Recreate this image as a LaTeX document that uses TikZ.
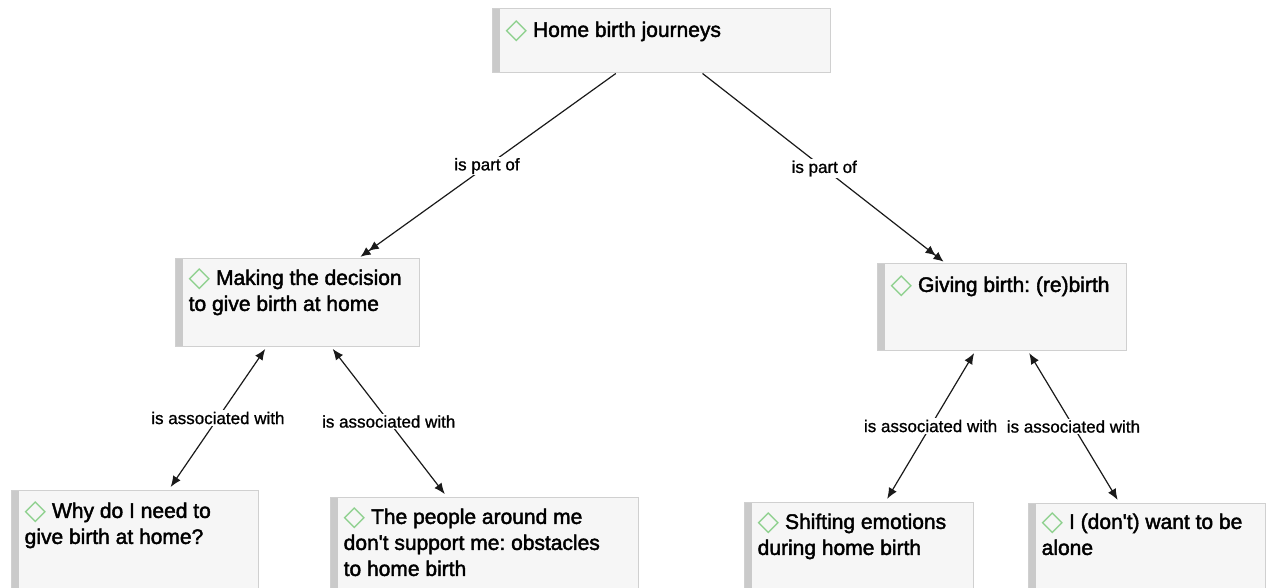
\documentclass[tikz,border=0pt]{standalone}
\usepackage{fontspec}
\setmainfont{Liberation Sans}
\newfontfamily\nodefont[FakeBold=2]{Liberation Sans}
\newfontfamily\labelfont[FakeBold=1]{Liberation Sans}
\newfontfamily\dejavu{DejaVu Sans}
\usetikzlibrary{arrows.meta}
\definecolor{boxfill}{HTML}{F6F6F6}
\definecolor{boxline}{HTML}{D0D0D0}
\definecolor{barcol}{HTML}{CACACA}
\definecolor{diagreen}{HTML}{8CD08C}
\definecolor{arrowcol}{HTML}{1A1A1A}
\frenchspacing
\newcommand{\dia}{\smash{\raisebox{-1.5pt}{\dejavu\color{diagreen}\fontsize{28}{26}\selectfont ◇}}}
\tikzset{
  conceptbox/.style={draw=boxline, line width=1pt, fill=boxfill, inner sep=0pt,
    path picture={\fill[barcol] (path picture bounding box.south west) rectangle ([xshift=8pt]path picture bounding box.north west);}},
  concepttext/.style={anchor=north west, inner sep=0pt, align=left,
    font=\nodefont\fontsize{21}{26}\selectfont},
  linklabel/.style={midway, fill=white, inner sep=1.5pt, font=\labelfont\fontsize{17}{20}\selectfont},
  partof/.style={draw=arrowcol, line width=1.2pt, shorten >=3pt,
    -{Latex[length=10pt,width=9pt]Latex[length=10pt,width=9pt]}},
  assoc/.style={draw=arrowcol, line width=1.2pt, shorten >=3pt, shorten <=3pt,
    {Latex[length=11pt,width=9pt]}-{Latex[length=11pt,width=9pt]}},
}
\begin{document}
\begin{tikzpicture}[x=1pt,y=-1pt]
\useasboundingbox (0,0) rectangle (1267,588);
\clip (0,0) rectangle (1267,588);
\fill[white] (0,0) rectangle (1267,588);

\node[conceptbox, minimum width=338pt, minimum height=64pt] (top) at (661,41) {};
\node[conceptbox, minimum width=244pt, minimum height=87pt] (making) at (297,302.5) {};
\node[conceptbox, minimum width=249pt, minimum height=86pt] (giving) at (1001.5,307) {};
\node[conceptbox, minimum width=247pt, minimum height=100pt] (why) at (134.5,540) {};
\node[conceptbox, minimum width=308pt, minimum height=96pt] (people) at (484,545) {};
\node[conceptbox, minimum width=229pt, minimum height=90pt] (shifting) at (858.5,547) {};
\node[conceptbox, minimum width=237pt, minimum height=90pt] (alone) at (1146.5,548) {};

\node[concepttext] (topT) at ([xshift=14pt,yshift=-10pt]top.north west) {\strut\dia\ Home birth journeys};
\node[concepttext] (makingT) at ([xshift=14pt,yshift=-8pt]making.north west) {\strut\dia\ Making the decision\\to give birth at home};
\node[concepttext] (givingT) at ([xshift=14pt,yshift=-10pt]giving.north west) {\strut\dia\ Giving birth: (re)birth};
\node[concepttext] (whyT) at ([xshift=14pt,yshift=-10pt]why.north west) {\strut\dia\ Why do I need to\\give birth at home?};
\node[concepttext] (peopleT) at ([xshift=14pt,yshift=-9pt]people.north west) {\strut\dia\ The people around me\\don\textquotesingle t support me: obstacles\\to home birth};
\node[concepttext] (shiftingT) at ([xshift=14pt,yshift=-9pt]shifting.north west) {\strut\dia\ Shifting emotions\\during home birth};
\node[concepttext] (aloneT) at ([xshift=14pt,yshift=-8pt]alone.north west) {\strut\dia\ I (don\textquotesingle t) want to be\\alone};

\draw[partof] (top) -- node[linklabel] {is part of} (making);
\draw[partof] (top) -- node[linklabel] {is part of} (giving);
\draw[assoc] (making) -- node[linklabel] {is associated with} (why);
\draw[assoc] (making) -- node[linklabel] {is associated with} (people);
\draw[assoc] (giving) -- node[linklabel] {is associated with} (shifting);
\draw[assoc] (giving) -- node[linklabel] {is associated with} (alone);
\end{tikzpicture}
\end{document}
